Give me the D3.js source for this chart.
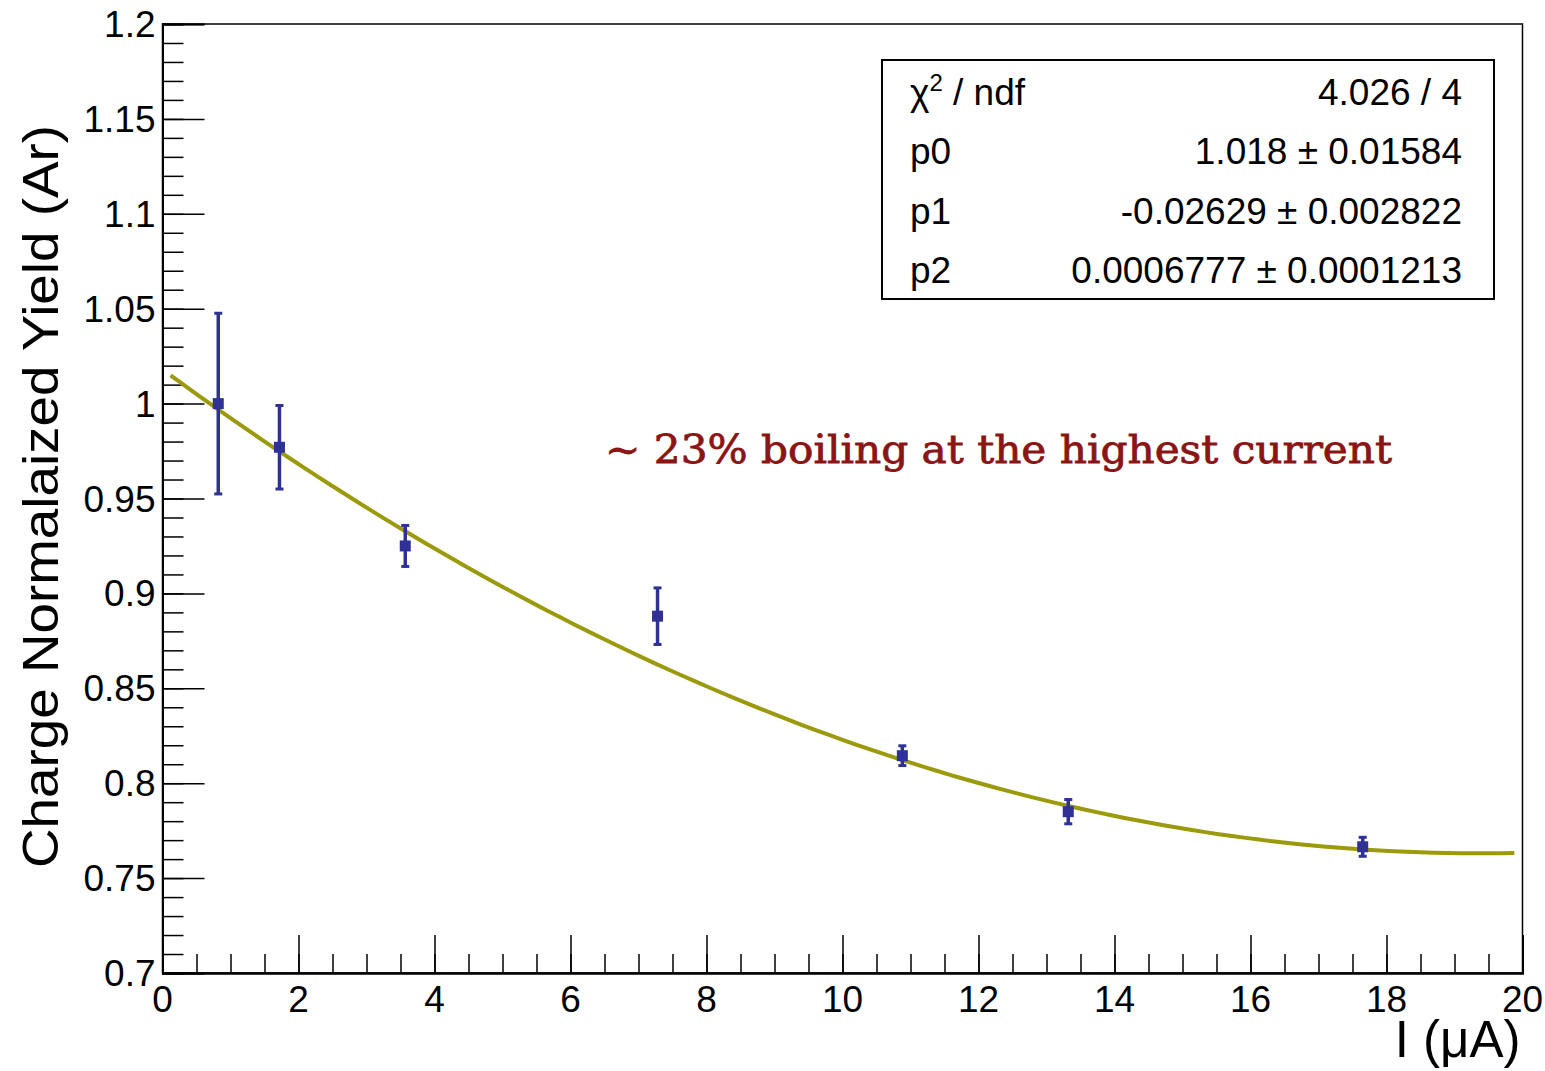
<!DOCTYPE html>
<html>
<head>
<meta charset="utf-8">
<script src="https://cdn.jsdelivr.net/npm/d3@7"></script>
<style>
  body { margin: 0; background: #fff; }
  svg text { font-family: "Liberation Sans", Arial, sans-serif; }
</style>
</head>
<body>
<div id="chart"></div>
<script>
// measured points (current in uA, normalized yield, error)
var currents = [0.82, 1.72, 3.57, 7.28, 10.88, 13.32, 17.65];
var yields   = [1.000, 0.977, 0.925, 0.888, 0.8145, 0.785, 0.7665];
var errors   = [0.0476, 0.022, 0.0108, 0.0149, 0.0052, 0.0064, 0.005];

// pol2 fit parameters from the stats box
var fitParams = [1.018, -0.02629, 0.0006777];
var fitRange = [0.12, 19.88];
var statLabels = ["p0", "p1", "p2"];
var statValues = ["4.026 / 4", "1.018 \u00b1 0.01584", "-0.02629 \u00b1 0.002822", "0.0006777 \u00b1 0.0001213"];

var xMajor = d3.range(0, 20.01, 2);
var xMinor = d3.range(0, 20.01, 0.5);
var yMajor = [0.7, 0.75, 0.8, 0.85, 0.9, 0.95, 1, 1.05, 1.1, 1.15, 1.2];
var yMinor = d3.range(70, 121, 1).map(function(v) { return v / 100; });

var width = 1545, height = 1071;
var padL = 162.5, padR = 1522.5, padT = 24, padB = 973;

var svg = d3.select("#chart").append("svg")
  .attr("width", width).attr("height", height);
svg.append("rect").attr("width", width).attr("height", height).attr("fill", "#fff");

var x = d3.scaleLinear().domain([0, 20]).range([padL, padR]);
var y = d3.scaleLinear().domain([0.7, 1.2]).range([padB, padT]);

// frame
svg.append("rect")
  .attr("x", padL).attr("y", padT)
  .attr("width", padR - padL).attr("height", padB - padT)
  .attr("fill", "none").attr("stroke", "#000").attr("stroke-width", 1.5);

// x axis ticks
var gx = svg.append("g").attr("transform", "translate(0," + padB + ")");
gx.append("g").call(d3.axisBottom(x).tickValues(xMinor).tickSize(-19).tickFormat(""));
gx.append("g").call(d3.axisBottom(x).tickValues(xMajor).tickSize(-38).tickFormat(""));
gx.selectAll("path.domain").attr("stroke-width", 2);
gx.selectAll(".tick line").attr("stroke-width", 1.5);

// y axis ticks
var gy = svg.append("g").attr("transform", "translate(" + padL + ",0)");
gy.append("g").call(d3.axisLeft(y).tickValues(yMinor).tickSize(-21).tickFormat(""));
gy.append("g").call(d3.axisLeft(y).tickValues(yMajor).tickSize(-42).tickFormat(""));
gy.selectAll("path.domain").attr("stroke-width", 2);
gy.selectAll(".tick line").attr("stroke-width", 1.5);

// tick labels
svg.append("g").selectAll("text")
  .data(xMajor).enter().append("text")
  .attr("x", function(d) { return x(d); })
  .attr("y", padB + 39)
  .attr("text-anchor", "middle")
  .attr("font-size", 37)
  .text(function(d) { return d; });

svg.append("g").selectAll("text")
  .data(yMajor).enter().append("text")
  .attr("x", padL - 7)
  .attr("y", function(d) { return y(d) + 13; })
  .attr("text-anchor", "end")
  .attr("font-size", 37)
  .text(function(d) { return +d.toFixed(2); });

// axis titles
svg.append("text")
  .attr("x", padR - 2).attr("y", 1057)
  .attr("text-anchor", "end")
  .attr("font-size", 51)
  .text("I (\u03bcA)");

svg.append("text")
  .attr("transform", "translate(58,125) rotate(-90)")
  .attr("text-anchor", "end")
  .attr("font-size", 50)
  .attr("textLength", 743)
  .attr("lengthAdjust", "spacingAndGlyphs")
  .text("Charge Normalaized Yield (Ar)");

// fit curve
var fitX = d3.range(0, 101).map(function(i) { return fitRange[0] + (fitRange[1] - fitRange[0]) * i / 100; });
function pol2(v) { return fitParams[0] + fitParams[1] * v + fitParams[2] * v * v; }
svg.append("path")
  .datum(fitX)
  .attr("fill", "none")
  .attr("stroke", "#9a9a0c")
  .attr("stroke-width", 4)
  .attr("d", d3.line().x(function(d) { return x(d); }).y(function(d) { return y(pol2(d)); }));

// data points with error bars
var pts = currents.map(function(c, i) { return { x: c, y: yields[i], e: errors[i] }; });
var blue = "#2f3196";
var gp = svg.append("g").selectAll("g").data(pts).enter().append("g");
gp.append("line")
  .attr("x1", function(d) { return x(d.x); }).attr("x2", function(d) { return x(d.x); })
  .attr("y1", function(d) { return y(d.y - d.e); }).attr("y2", function(d) { return y(d.y + d.e); })
  .attr("stroke", blue).attr("stroke-width", 3.5);
gp.selectAll("rect.cap")
  .data(function(d) { return [d.y - d.e, d.y + d.e].map(function(v) { return { x: d.x, v: v }; }); })
  .enter().append("rect")
  .attr("class", "cap")
  .attr("x", function(d) { return x(d.x) - 4; })
  .attr("y", function(d) { return y(d.v) - 1.5; })
  .attr("width", 8).attr("height", 3)
  .attr("fill", blue);
gp.append("rect")
  .attr("x", function(d) { return x(d.x) - 5.5; })
  .attr("y", function(d) { return y(d.y) - 5.5; })
  .attr("width", 11).attr("height", 11)
  .attr("fill", blue);

// stats box
var box = svg.append("g");
box.append("rect")
  .attr("x", 882).attr("y", 60).attr("width", 612).attr("height", 239)
  .attr("fill", "#fff").attr("stroke", "#000").attr("stroke-width", 2);
var rowY = d3.scaleLinear().domain([0, 3]).range([105, 283]);
var chi = box.append("text")
  .attr("x", 910).attr("y", rowY(0))
  .attr("font-size", 37);
chi.append("tspan").text("\u03c7");
chi.append("tspan").attr("font-size", 24).attr("dy", -14).text("2");
chi.append("tspan").attr("dy", 14).text(" / ndf");
box.selectAll("text.lbl").data(statLabels).enter().append("text")
  .attr("class", "lbl")
  .attr("x", 910)
  .attr("y", function(d, i) { return rowY(i + 1); })
  .attr("font-size", 37)
  .text(function(d) { return d; });
box.selectAll("text.val").data(statValues).enter().append("text")
  .attr("class", "val")
  .attr("x", 1462)
  .attr("y", function(d, i) { return rowY(i); })
  .attr("text-anchor", "end")
  .attr("font-size", 37)
  .text(function(d) { return d; });

// annotation
svg.append("text")
  .attr("x", 605).attr("y", 463)
  .style("font-family", "'DejaVu Serif', serif")
  .attr("font-size", 40)
  .attr("fill", "#8b1414")
  .attr("stroke", "#8b1414")
  .attr("stroke-width", 0.8)
  .attr("textLength", 787)
  .attr("lengthAdjust", "spacingAndGlyphs")
  .text("~ 23% boiling at the highest current");
</script>
</body>
</html>
